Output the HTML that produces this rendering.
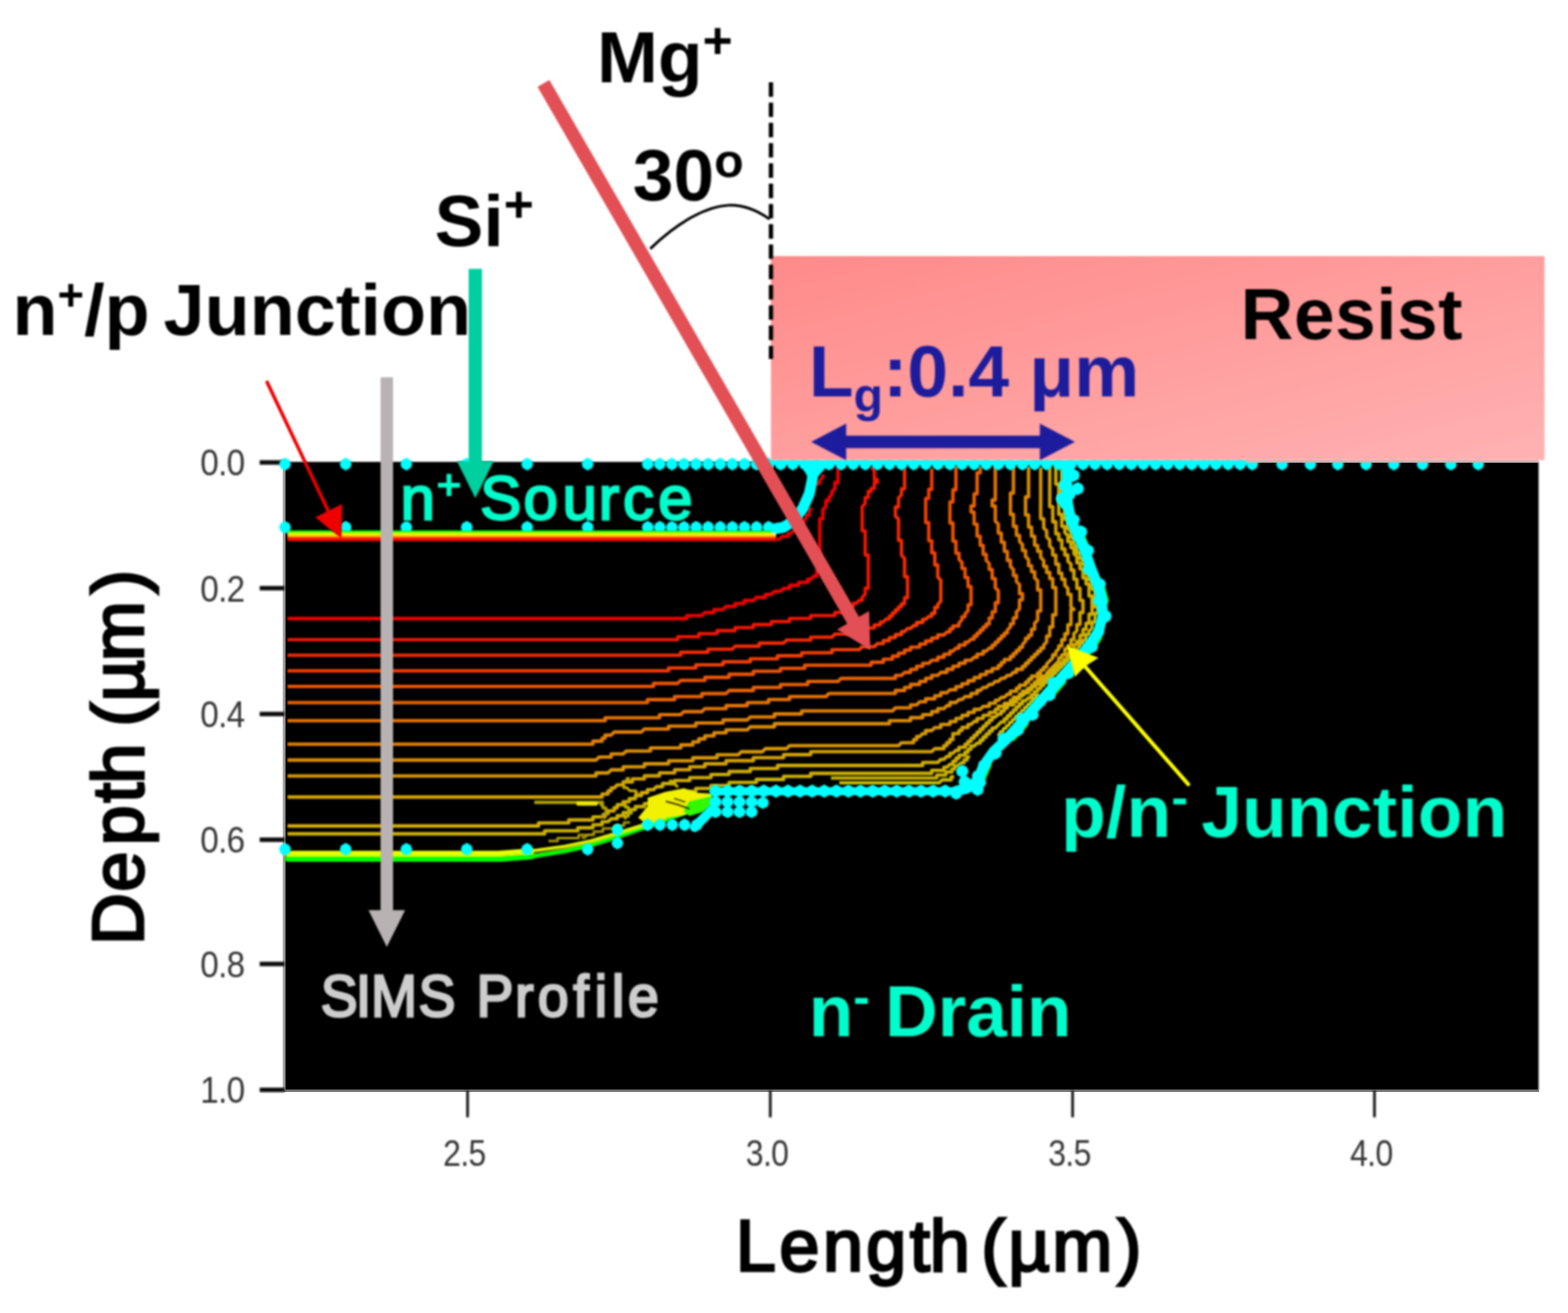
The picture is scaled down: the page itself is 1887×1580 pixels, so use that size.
<!DOCTYPE html>
<html lang="en">
<head>
<meta charset="utf-8">
<title>Mg ion implantation: simulated junction profile</title>
<style>
html,body{margin:0;padding:0;background:#ffffff;}
body{width:1887px;height:1580px;overflow:hidden;}
svg{display:block;}
</style>
</head>
<body>
<svg width="1887" height="1580" viewBox="0 0 1887 1580" role="img" aria-label="Simulated Mg implantation profile">
<defs>
<linearGradient id="resist" x1="0" y1="0" x2="1" y2="1">
<stop offset="0" stop-color="#ff8a8a"/><stop offset="1" stop-color="#ffb2b2"/>
</linearGradient>
<linearGradient id="npband" x1="0" y1="0" x2="0" y2="1">
<stop offset="0" stop-color="#00f400"/><stop offset="0.2" stop-color="#10ff00"/>
<stop offset="0.3" stop-color="#f4ff00"/><stop offset="0.5" stop-color="#ffd000"/>
<stop offset="0.64" stop-color="#ff2800"/><stop offset="1" stop-color="#f40000"/>
</linearGradient>
<filter id="soft" x="-5%" y="-5%" width="110%" height="110%"><feGaussianBlur stdDeviation="0.8"/></filter>
<filter id="soft2" x="-5%" y="-5%" width="110%" height="110%"><feGaussianBlur stdDeviation="1.1"/></filter>
</defs>
<rect x="0" y="0" width="1887" height="1580" fill="#ffffff"/>
<rect x="342.0" y="555.8" width="1509.6" height="756.4" fill="#000000" filter="url(#soft)"/>
<rect x="340.5" y="557.0" width="3" height="755.0" fill="#9a9a9a"/>
<rect x="341.0" y="1311.5" width="1511.0" height="2.5" fill="#777777"/>
<g id="axes" filter="url(#soft)">
<rect x="312.5" y="553.8" width="30" height="5.4" fill="#111"/>
<text transform="translate(241.0,572.4) scale(0.92,1)" font-family="'Liberation Sans', Arial, Helvetica, sans-serif" font-size="43.5" fill="#363636" letter-spacing="-0.9">0.0</text>
<rect x="312.5" y="705.1" width="30" height="5.4" fill="#111"/>
<text transform="translate(241.0,723.7) scale(0.92,1)" font-family="'Liberation Sans', Arial, Helvetica, sans-serif" font-size="43.5" fill="#363636" letter-spacing="-0.9">0.2</text>
<rect x="312.5" y="856.5" width="30" height="5.4" fill="#111"/>
<text transform="translate(241.0,875.1) scale(0.92,1)" font-family="'Liberation Sans', Arial, Helvetica, sans-serif" font-size="43.5" fill="#363636" letter-spacing="-0.9">0.4</text>
<rect x="312.5" y="1007.8" width="30" height="5.4" fill="#111"/>
<text transform="translate(241.0,1026.4) scale(0.92,1)" font-family="'Liberation Sans', Arial, Helvetica, sans-serif" font-size="43.5" fill="#363636" letter-spacing="-0.9">0.6</text>
<rect x="312.5" y="1157.3" width="30" height="5.4" fill="#111"/>
<text transform="translate(241.0,1175.9) scale(0.92,1)" font-family="'Liberation Sans', Arial, Helvetica, sans-serif" font-size="43.5" fill="#363636" letter-spacing="-0.9">0.8</text>
<rect x="312.5" y="1308.8" width="30" height="5.4" fill="#111"/>
<text transform="translate(241.0,1327.4) scale(0.92,1)" font-family="'Liberation Sans', Arial, Helvetica, sans-serif" font-size="43.5" fill="#363636" letter-spacing="-0.9">1.0</text>
<rect x="561.0" y="1312" width="3.4" height="32.5" fill="#222"/>
<text transform="translate(533.3,1402.8) scale(0.875,1)" font-family="'Liberation Sans', Arial, Helvetica, sans-serif" font-size="44" fill="#363636" letter-spacing="-0.9">2.5</text>
<rect x="925.3" y="1312" width="3.4" height="32.5" fill="#222"/>
<text transform="translate(897.6,1402.8) scale(0.875,1)" font-family="'Liberation Sans', Arial, Helvetica, sans-serif" font-size="44" fill="#363636" letter-spacing="-0.9">3.0</text>
<rect x="1289.1" y="1312" width="3.4" height="32.5" fill="#222"/>
<text transform="translate(1261.4,1402.8) scale(0.875,1)" font-family="'Liberation Sans', Arial, Helvetica, sans-serif" font-size="44" fill="#363636" letter-spacing="-0.9">3.5</text>
<rect x="1652.4" y="1312" width="3.4" height="32.5" fill="#222"/>
<text transform="translate(1624.7,1402.8) scale(0.875,1)" font-family="'Liberation Sans', Arial, Helvetica, sans-serif" font-size="44" fill="#363636" letter-spacing="-0.9">4.0</text>
</g>
<g id="contours" filter="url(#soft2)">
<polyline points="346.0,744.4 826.5,744.4 826.5,740.8 844.7,740.8 848.3,737.1 859.2,737.1 859.2,733.5 870.2,733.5 873.8,729.8 884.7,729.8 884.7,726.2 895.6,726.2 895.6,722.6 906.6,722.6 910.2,718.9 921.1,718.9 921.1,715.3 928.4,715.3 932.0,711.6 939.3,711.6 943.0,708.0 950.2,708.0 950.2,704.4 961.2,704.4 961.2,700.7 972.1,700.7 972.1,697.1 975.7,697.1 979.4,693.4 983.0,693.4 983.0,686.2 986.6,686.2 986.6,624.3 990.3,624.3 990.3,613.4 993.9,609.7 993.9,602.4 997.6,602.4 997.6,598.8 1001.2,595.2 1001.2,591.5 1004.8,587.9 1004.8,580.6 1008.5,580.6 1008.5,562.4" fill="none" stroke="#f00000" stroke-width="4.1" stroke-linejoin="round" stroke-linecap="butt" />
<polyline points="346.0,769.8 815.6,769.8 815.6,766.2 841.0,766.2 841.0,762.5 862.9,762.5 862.9,758.9 884.7,758.9 884.7,755.2 906.6,755.2 906.6,751.6 928.4,751.6 928.4,748.0 950.2,748.0 950.2,744.3 975.7,744.3 975.7,740.7 1004.8,740.7 1004.8,737.0 1015.8,737.0 1015.8,733.4 1023.0,733.4 1023.0,729.8 1026.7,729.8 1026.7,726.1 1030.3,726.1 1034.0,722.5 1037.6,722.5 1037.6,718.8 1041.2,715.2 1041.2,707.9 1044.9,707.9 1044.9,667.9 1041.2,667.9 1041.2,638.8 1037.6,638.8 1037.6,609.6 1041.2,606.0 1041.2,598.7 1044.9,598.7 1044.9,591.4 1048.5,591.4 1048.5,587.8 1052.2,587.8 1052.2,580.5 1055.8,580.5 1055.8,576.9 1052.2,576.9 1052.2,566.0 1048.5,562.3" fill="none" stroke="#f21300" stroke-width="4.1" stroke-linejoin="round" stroke-linecap="butt" />
<polyline points="346.0,788.5 819.2,788.5 819.2,784.9 852.0,784.9 852.0,781.2 881.1,781.2 884.7,777.6 913.8,777.6 913.8,773.9 943.0,773.9 946.6,770.3 975.7,770.3 975.7,766.7 1001.2,766.7 1004.8,763.0 1026.7,763.0 1026.7,759.4 1041.2,759.4 1041.2,755.7 1052.2,755.7 1052.2,752.1 1059.4,752.1 1059.4,748.5 1063.1,748.5 1066.7,744.8 1070.4,744.8 1070.4,741.2 1074.0,741.2 1074.0,737.5 1077.6,737.5 1077.6,733.9 1081.3,733.9 1081.3,730.3 1084.9,730.3 1084.9,726.6 1088.6,726.6 1088.6,719.3 1092.2,719.3 1092.2,693.9 1088.6,693.9 1088.6,672.0 1084.9,668.4 1084.9,650.2 1081.3,650.2 1081.3,624.7 1077.6,621.1 1077.6,610.1 1081.3,610.1 1081.3,599.2 1084.9,595.6 1084.9,588.3 1088.6,588.3 1088.6,562.8" fill="none" stroke="#f42a00" stroke-width="4.1" stroke-linejoin="round" stroke-linecap="butt" />
<polyline points="346.0,807.3 804.6,807.3 804.6,803.7 837.4,803.7 837.4,800.0 870.2,800.0 870.2,796.4 902.9,796.4 902.9,792.7 935.7,792.7 935.7,789.1 964.8,789.1 964.8,785.5 1001.2,785.5 1001.2,781.8 1034.0,781.8 1037.6,778.2 1052.2,778.2 1055.8,774.5 1063.1,774.5 1063.1,770.9 1070.4,770.9 1070.4,767.3 1077.6,767.3 1077.6,763.6 1084.9,763.6 1084.9,760.0 1088.6,760.0 1092.2,756.3 1095.8,756.3 1099.5,752.7 1103.1,752.7 1103.1,749.1 1110.4,749.1 1110.4,745.4 1114.0,745.4 1117.7,741.8 1121.3,741.8 1121.3,738.1 1125.0,738.1 1125.0,730.9 1128.6,730.9 1128.6,727.2 1132.2,723.6 1132.2,698.1 1128.6,694.5 1128.6,679.9 1125.0,679.9 1125.0,665.3 1121.3,665.3 1121.3,650.8 1117.7,650.8 1117.7,628.9 1114.0,628.9 1114.0,599.8 1117.7,599.8 1117.7,588.9 1121.3,588.9 1121.3,563.4" fill="none" stroke="#f43f00" stroke-width="4.1" stroke-linejoin="round" stroke-linecap="butt" />
<polyline points="346.0,826.0 786.4,826.0 786.4,822.4 815.6,822.4 819.2,818.7 848.3,818.7 848.3,815.1 877.4,815.1 877.4,811.4 906.6,811.4 906.6,807.8 939.3,807.8 939.3,804.2 968.4,804.2 968.4,800.5 1048.5,800.5 1048.5,796.9 1063.1,796.9 1063.1,793.2 1074.0,793.2 1074.0,789.6 1081.3,789.6 1081.3,786.0 1088.6,786.0 1088.6,782.3 1095.8,782.3 1095.8,778.7 1106.8,778.7 1106.8,775.0 1114.0,775.0 1114.0,771.4 1121.3,771.4 1121.3,767.8 1128.6,767.8 1128.6,764.1 1135.9,764.1 1139.5,760.5 1143.2,760.5 1143.2,756.8 1146.8,756.8 1146.8,753.2 1154.1,753.2 1154.1,749.6 1157.7,745.9 1157.7,742.3 1161.4,742.3 1161.4,738.6 1165.0,735.0 1165.0,727.7 1168.6,727.7 1168.6,705.9 1165.0,705.9 1165.0,695.0 1161.4,695.0 1161.4,684.0 1157.7,684.0 1157.7,676.8 1154.1,673.1 1154.1,665.8 1150.4,665.8 1150.4,651.3 1146.8,651.3 1146.8,629.4 1143.2,629.4 1143.2,604.0 1146.8,604.0 1146.8,589.4 1150.4,589.4 1150.4,560.3" fill="none" stroke="#f05400" stroke-width="4.1" stroke-linejoin="round" stroke-linecap="butt" />
<polyline points="346.0,845.5 779.2,845.5 779.2,841.9 811.9,841.9 811.9,838.2 844.7,838.2 844.7,834.6 873.8,834.6 877.4,830.9 906.6,830.9 906.6,827.3 939.3,827.3 939.3,823.7 972.1,823.7 972.1,820.0 1008.5,820.0 1012.1,816.4 1077.6,816.4 1077.6,812.7 1084.9,812.7 1088.6,809.1 1095.8,809.1 1095.8,805.5 1103.1,805.5 1103.1,801.8 1110.4,801.8 1110.4,798.2 1117.7,798.2 1121.3,794.5 1128.6,794.5 1128.6,790.9 1135.9,790.9 1135.9,787.3 1143.2,787.3 1143.2,783.6 1146.8,783.6 1150.4,780.0 1154.1,780.0 1154.1,776.3 1161.4,776.3 1161.4,772.7 1165.0,772.7 1168.6,769.1 1172.3,769.1 1172.3,765.4 1175.9,765.4 1175.9,761.8 1179.6,761.8 1179.6,758.1 1183.2,758.1 1183.2,754.5 1186.8,754.5 1186.8,750.9 1190.5,750.9 1190.5,743.6 1194.1,743.6 1194.1,736.3 1197.8,736.3 1197.8,725.4 1201.4,725.4 1201.4,710.8 1197.8,707.2 1197.8,696.3 1194.1,696.3 1194.1,685.3 1190.5,685.3 1190.5,678.1 1186.8,674.4 1186.8,667.1 1183.2,667.1 1183.2,656.2 1179.6,656.2 1179.6,645.3 1175.9,645.3 1175.9,630.7 1172.3,630.7 1172.3,616.2 1168.6,616.2 1168.6,608.9 1172.3,608.9 1172.3,594.3 1175.9,594.3 1175.9,568.9 1179.6,568.9 1179.6,561.6" fill="none" stroke="#eb6400" stroke-width="4.1" stroke-linejoin="round" stroke-linecap="butt" />
<polyline points="346.0,867.3 728.2,867.3 728.2,863.7 793.7,863.7 793.7,860.0 819.2,860.0 822.8,856.4 844.7,856.4 848.3,852.7 873.8,852.7 873.8,849.1 899.3,849.1 899.3,845.5 924.8,845.5 924.8,841.8 950.2,841.8 950.2,838.2 993.9,838.2 997.6,834.5 1077.6,834.5 1077.6,830.9 1088.6,830.9 1088.6,827.3 1095.8,827.3 1095.8,823.6 1106.8,823.6 1106.8,820.0 1114.0,820.0 1114.0,816.3 1121.3,816.3 1121.3,812.7 1128.6,812.7 1132.2,809.1 1139.5,809.1 1139.5,805.4 1146.8,805.4 1146.8,801.8 1154.1,801.8 1154.1,798.1 1161.4,798.1 1161.4,794.5 1168.6,794.5 1172.3,790.9 1175.9,790.9 1175.9,787.2 1183.2,787.2 1183.2,783.6 1186.8,783.6 1190.5,779.9 1194.1,779.9 1194.1,776.3 1197.8,776.3 1197.8,772.7 1201.4,772.7 1201.4,769.0 1205.0,769.0 1205.0,765.4 1208.7,765.4 1208.7,761.7 1212.3,761.7 1212.3,758.1 1216.0,754.5 1216.0,750.8 1219.6,750.8 1219.6,743.5 1223.2,743.5 1223.2,736.3 1226.9,732.6 1226.9,721.7 1230.5,721.7 1230.5,714.4 1226.9,714.4 1226.9,703.5 1223.2,699.9 1223.2,692.6 1219.6,692.6 1219.6,685.3 1216.0,681.7 1216.0,674.4 1212.3,674.4 1212.3,663.5 1208.7,663.5 1208.7,652.5 1205.0,652.5 1205.0,641.6 1201.4,641.6 1201.4,630.7 1197.8,627.1 1197.8,608.9 1194.1,608.9 1194.1,601.6 1197.8,601.6 1197.8,561.5" fill="none" stroke="#e77400" stroke-width="4.1" stroke-linejoin="round" stroke-linecap="butt" />
<polyline points="346.0,895.5 713.6,895.5 713.6,891.9 724.6,891.9 724.6,888.2 728.2,888.2 728.2,884.6 735.5,884.6 739.1,880.9 771.9,880.9 775.5,877.3 804.6,877.3 804.6,873.7 837.4,873.7 837.4,870.0 870.2,870.0 870.2,866.4 899.3,866.4 902.9,862.7 932.0,862.7 932.0,859.1 964.8,859.1 964.8,855.5 1074.0,855.5 1077.6,851.8 1095.8,851.8 1095.8,848.2 1103.1,848.2 1106.8,844.5 1114.0,844.5 1114.0,840.9 1125.0,840.9 1125.0,837.3 1132.2,837.3 1132.2,833.6 1139.5,833.6 1143.2,830.0 1150.4,830.0 1150.4,826.3 1157.7,826.3 1157.7,822.7 1165.0,822.7 1165.0,819.1 1172.3,819.1 1172.3,815.4 1179.6,815.4 1179.6,811.8 1186.8,811.8 1186.8,808.1 1194.1,808.1 1194.1,804.5 1201.4,804.5 1201.4,800.9 1205.0,800.9 1205.0,797.2 1208.7,797.2 1208.7,793.6 1216.0,793.6 1216.0,789.9 1219.6,789.9 1219.6,786.3 1223.2,786.3 1223.2,782.7 1226.9,782.7 1226.9,779.0 1230.5,779.0 1230.5,775.4 1234.2,771.7 1234.2,768.1 1237.8,768.1 1237.8,764.5 1241.4,764.5 1241.4,757.2 1245.1,757.2 1245.1,749.9 1248.7,746.3 1248.7,735.3 1252.4,735.3 1252.4,709.9 1248.7,709.9 1248.7,698.9 1245.1,695.3 1245.1,688.0 1241.4,688.0 1241.4,680.7 1237.8,680.7 1237.8,673.5 1234.2,669.8 1234.2,662.5 1230.5,662.5 1230.5,655.3 1226.9,651.6 1226.9,644.3 1223.2,644.3 1223.2,633.4 1219.6,633.4 1219.6,618.9 1216.0,618.9 1216.0,593.4 1219.6,593.4 1219.6,560.6" fill="none" stroke="#e38000" stroke-width="4.1" stroke-linejoin="round" stroke-linecap="butt" />
<polyline points="346.0,914.6 717.3,914.6 720.9,911.0 735.5,911.0 735.5,907.3 750.0,907.3 753.7,903.7 782.8,903.7 782.8,900.0 819.2,900.0 819.2,896.4 833.8,896.4 833.8,892.8 841.0,892.8 841.0,889.1 848.3,889.1 848.3,885.5 859.2,885.5 859.2,881.8 873.8,881.8 873.8,878.2 899.3,878.2 902.9,874.6 932.0,874.6 932.0,870.9 1070.4,870.9 1070.4,867.3 1095.8,867.3 1095.8,863.6 1110.4,863.6 1110.4,860.0 1121.3,860.0 1121.3,856.4 1128.6,856.4 1128.6,852.7 1135.9,852.7 1139.5,849.1 1143.2,849.1 1143.2,845.4 1150.4,845.4 1154.1,841.8 1157.7,841.8 1161.4,838.2 1168.6,838.2 1168.6,834.5 1175.9,834.5 1175.9,830.9 1179.6,830.9 1183.2,827.2 1186.8,827.2 1190.5,823.6 1194.1,823.6 1197.8,820.0 1201.4,820.0 1205.0,816.3 1208.7,816.3 1212.3,812.7 1216.0,812.7 1219.6,809.0 1223.2,809.0 1223.2,805.4 1230.5,805.4 1230.5,801.8 1234.2,801.8 1234.2,798.1 1237.8,798.1 1237.8,794.5 1241.4,794.5 1241.4,790.8 1245.1,790.8 1245.1,787.2 1248.7,787.2 1248.7,783.6 1252.4,783.6 1252.4,779.9 1256.0,779.9 1256.0,776.3 1259.6,772.6 1259.6,765.4 1263.3,765.4 1263.3,754.4 1266.9,754.4 1266.9,739.9 1270.6,739.9 1270.6,707.1 1266.9,707.1 1266.9,696.2 1263.3,696.2 1263.3,688.9 1259.6,688.9 1259.6,681.6 1256.0,681.6 1256.0,674.4 1252.4,670.7 1252.4,663.4 1248.7,663.4 1248.7,656.2 1245.1,656.2 1245.1,645.2 1241.4,645.2 1241.4,634.3 1237.8,634.3 1237.8,619.8 1234.2,619.8 1234.2,597.9 1237.8,597.9 1237.8,561.5" fill="none" stroke="#df8d00" stroke-width="4.1" stroke-linejoin="round" stroke-linecap="butt" />
<polyline points="346.0,933.7 717.3,933.7 717.3,930.1 731.8,930.1 735.5,926.4 750.0,926.4 750.0,922.8 775.5,922.8 775.5,919.1 804.6,919.1 804.6,915.5 833.8,915.5 833.8,911.9 862.9,911.9 862.9,908.2 888.4,908.2 892.0,904.6 917.5,904.6 921.1,900.9 946.6,900.9 950.2,897.3 1081.3,897.3 1084.9,893.7 1099.5,893.7 1099.5,890.0 1103.1,890.0 1103.1,886.4 1106.8,886.4 1110.4,882.7 1114.0,882.7 1114.0,879.1 1121.3,879.1 1125.0,875.5 1132.2,875.5 1132.2,871.8 1143.2,871.8 1143.2,868.2 1150.4,868.2 1150.4,864.5 1157.7,864.5 1157.7,860.9 1165.0,860.9 1165.0,857.3 1172.3,857.3 1172.3,853.6 1179.6,853.6 1183.2,850.0 1190.5,850.0 1190.5,846.3 1197.8,846.3 1197.8,842.7 1201.4,842.7 1205.0,839.1 1208.7,839.1 1212.3,835.4 1216.0,835.4 1216.0,831.8 1223.2,831.8 1223.2,828.1 1226.9,828.1 1226.9,824.5 1234.2,824.5 1234.2,820.9 1237.8,820.9 1237.8,817.2 1241.4,817.2 1241.4,813.6 1248.7,813.6 1248.7,809.9 1252.4,809.9 1252.4,806.3 1256.0,806.3 1256.0,802.7 1259.6,802.7 1259.6,799.0 1263.3,795.4 1266.9,791.7 1266.9,788.1 1270.6,788.1 1270.6,784.5 1274.2,780.8 1274.2,777.2 1277.8,777.2 1277.8,769.9 1281.5,769.9 1281.5,762.6 1285.1,762.6 1285.1,751.7 1288.8,751.7 1288.8,733.5 1292.4,733.5 1288.8,729.9 1288.8,715.3 1285.1,715.3 1285.1,708.0 1281.5,704.4 1281.5,697.1 1277.8,697.1 1277.8,689.8 1274.2,689.8 1274.2,678.9 1270.6,678.9 1270.6,668.0 1266.9,668.0 1266.9,660.7 1263.3,657.1 1263.3,649.8 1259.6,646.1 1259.6,638.9 1256.0,635.2 1256.0,624.3 1252.4,624.3 1252.4,562.4" fill="none" stroke="#da9900" stroke-width="4.1" stroke-linejoin="round" stroke-linecap="butt" />
<polyline points="346.0,959.1 724.6,959.1 724.6,955.5 731.8,955.5 731.8,951.8 735.5,951.8 735.5,948.2 739.1,948.2 742.8,944.5 750.0,944.5 750.0,940.9 761.0,940.9 761.0,937.3 775.5,937.3 775.5,933.6 793.7,933.6 793.7,930.0 811.9,930.0 811.9,926.3 830.1,926.3 830.1,922.7 848.3,922.7 848.3,919.1 873.8,919.1 873.8,915.4 906.6,915.4 906.6,911.8 943.0,911.8 943.0,908.1 975.7,908.1 975.7,904.5 1121.3,904.5 1125.0,900.9 1135.9,900.9 1135.9,897.2 1139.5,897.2 1139.5,893.6 1143.2,893.6 1143.2,889.9 1146.8,889.9 1146.8,882.7 1154.1,882.7 1154.1,879.0 1157.7,879.0 1157.7,875.4 1165.0,875.4 1165.0,871.7 1168.6,871.7 1172.3,868.1 1175.9,868.1 1175.9,864.5 1183.2,864.5 1183.2,860.8 1190.5,860.8 1190.5,857.2 1197.8,857.2 1197.8,853.5 1201.4,853.5 1201.4,849.9 1208.7,849.9 1208.7,846.3 1216.0,846.3 1216.0,842.6 1219.6,842.6 1219.6,839.0 1226.9,839.0 1226.9,835.3 1230.5,835.3 1230.5,831.7 1234.2,831.7 1237.8,828.1 1241.4,828.1 1241.4,824.4 1245.1,824.4 1245.1,820.8 1248.7,820.8 1248.7,817.1 1252.4,817.1 1252.4,813.5 1259.6,813.5 1259.6,809.9 1263.3,806.2 1266.9,802.6 1270.6,798.9 1274.2,795.3 1274.2,791.7 1277.8,791.7 1277.8,788.0 1281.5,788.0 1281.5,780.7 1285.1,780.7 1285.1,777.1 1288.8,777.1 1288.8,769.8 1292.4,769.8 1292.4,762.5 1296.0,758.9 1296.0,751.6 1299.7,751.6 1299.7,737.1 1303.3,737.1 1303.3,722.5 1299.7,722.5 1299.7,707.9 1296.0,707.9 1296.0,697.0 1292.4,697.0 1292.4,686.1 1288.8,686.1 1288.8,678.8 1285.1,675.2 1285.1,667.9 1281.5,667.9 1281.5,660.6 1277.8,660.6 1277.8,649.7 1274.2,649.7 1274.2,642.4 1270.6,642.4 1270.6,627.9 1266.9,627.9 1266.9,609.7 1263.3,609.7 1263.3,562.3" fill="none" stroke="#d6a400" stroke-width="4.1" stroke-linejoin="round" stroke-linecap="butt" />
<polyline points="346.0,993.9 648.1,993.9 648.1,990.3 684.5,990.3 684.5,986.6 713.6,986.6 713.6,983.0 728.2,983.0 728.2,979.3 731.8,979.3 731.8,975.7 739.1,975.7 739.1,972.1 742.8,972.1 742.8,968.4 750.0,968.4 750.0,964.8 757.3,964.8 757.3,961.1 764.6,961.1 764.6,957.5 771.9,957.5 771.9,953.9 779.2,953.9 779.2,950.2 786.4,950.2 790.1,946.6 797.4,946.6 797.4,942.9 811.9,942.9 811.9,939.3 830.1,939.3 830.1,935.7 855.6,935.7 855.6,932.0 877.4,932.0 877.4,928.4 902.9,928.4 902.9,924.7 935.7,924.7 935.7,921.1 1110.4,921.1 1110.4,917.5 1128.6,917.5 1132.2,913.8 1135.9,913.8 1139.5,910.2 1143.2,910.2 1143.2,906.5 1146.8,906.5 1150.4,902.9 1154.1,902.9 1154.1,899.3 1161.4,899.3 1161.4,895.6 1165.0,895.6 1165.0,892.0 1168.6,892.0 1168.6,888.3 1172.3,888.3 1172.3,884.7 1175.9,884.7 1175.9,881.1 1179.6,881.1 1179.6,877.4 1183.2,877.4 1183.2,873.8 1186.8,873.8 1186.8,870.1 1190.5,870.1 1190.5,866.5 1194.1,866.5 1194.1,862.9 1197.8,862.9 1201.4,859.2 1205.0,859.2 1205.0,855.6 1208.7,855.6 1208.7,851.9 1212.3,851.9 1212.3,848.3 1219.6,848.3 1219.6,844.7 1223.2,844.7 1223.2,841.0 1226.9,841.0 1226.9,837.4 1230.5,837.4 1234.2,833.7 1237.8,833.7 1237.8,830.1 1241.4,830.1 1241.4,826.5 1245.1,826.5 1248.7,822.8 1252.4,822.8 1252.4,819.2 1256.0,819.2 1256.0,815.5 1259.6,815.5 1259.6,811.9 1263.3,811.9 1263.3,808.3 1266.9,808.3 1266.9,804.6 1270.6,804.6 1270.6,801.0 1274.2,801.0 1277.8,797.3 1281.5,793.7 1285.1,790.1 1285.1,786.4 1288.8,786.4 1288.8,782.8 1292.4,782.8 1292.4,775.5 1296.0,775.5 1296.0,771.9 1299.7,771.9 1299.7,764.6 1303.3,764.6 1303.3,757.3 1307.0,757.3 1307.0,750.0 1310.6,750.0 1310.6,739.1 1314.2,739.1 1314.2,717.3 1310.6,717.3 1310.6,702.7 1307.0,702.7 1307.0,695.4 1303.3,695.4 1303.3,684.5 1299.7,684.5 1299.7,677.2 1296.0,677.2 1296.0,669.9 1292.4,666.3 1292.4,659.0 1288.8,659.0 1288.8,651.7 1285.1,651.7 1285.1,644.5 1281.5,640.8 1281.5,633.5 1277.8,633.5 1277.8,619.0 1274.2,619.0 1274.2,582.6 1270.6,582.6 1270.6,560.7" fill="none" stroke="#d2ae00" stroke-width="4.1" stroke-linejoin="round" stroke-linecap="butt" />
<polyline points="346.0,1003.4 655.4,1003.4 655.4,999.8 695.4,999.8 695.4,996.1 713.6,996.1 713.6,992.5 724.6,992.5 724.6,988.8 731.8,988.8 735.5,985.2 742.8,985.2 742.8,981.6 750.0,981.6 750.0,977.9 757.3,977.9 757.3,974.3 764.6,974.3 764.6,970.6 775.5,970.6 775.5,967.0 782.8,967.0 786.4,963.4 793.7,963.4 793.7,959.7 808.3,959.7 808.3,956.1 822.8,956.1 822.8,952.4 837.4,952.4 837.4,948.8 855.6,948.8 855.6,945.2 877.4,945.2 877.4,941.5 910.2,941.5 910.2,937.9 943.0,937.9 943.0,934.2 975.7,934.2 975.7,930.6 1121.3,930.6 1121.3,927.0 1135.9,927.0 1135.9,923.3 1139.5,923.3 1143.2,919.7 1146.8,919.7 1146.8,916.0 1150.4,916.0 1150.4,912.4 1154.1,912.4 1154.1,908.8 1161.4,908.8 1161.4,905.1 1165.0,905.1 1165.0,901.5 1168.6,901.5 1168.6,897.8 1172.3,897.8 1175.9,894.2 1179.6,894.2 1179.6,890.6 1183.2,890.6 1183.2,886.9 1186.8,886.9 1186.8,883.3 1190.5,883.3 1190.5,879.6 1194.1,879.6 1194.1,876.0 1197.8,876.0 1201.4,872.4 1205.0,868.7 1208.7,868.7 1208.7,865.1 1212.3,865.1 1212.3,861.4 1216.0,861.4 1216.0,857.8 1219.6,857.8 1219.6,854.2 1223.2,854.2 1223.2,850.5 1226.9,850.5 1226.9,846.9 1230.5,846.9 1230.5,843.2 1234.2,843.2 1237.8,839.6 1241.4,839.6 1241.4,836.0 1245.1,836.0 1245.1,832.3 1248.7,832.3 1248.7,828.7 1252.4,828.7 1252.4,825.0 1256.0,825.0 1256.0,821.4 1259.6,821.4 1259.6,817.8 1263.3,817.8 1263.3,814.1 1266.9,814.1 1266.9,810.5 1270.6,810.5 1270.6,806.8 1274.2,806.8 1274.2,803.2 1277.8,803.2 1277.8,799.6 1281.5,799.6 1281.5,795.9 1285.1,795.9 1285.1,792.3 1288.8,792.3 1288.8,788.6 1292.4,788.6 1292.4,785.0 1296.0,785.0 1296.0,781.4 1299.7,777.7 1299.7,774.1 1303.3,774.1 1303.3,770.4 1307.0,770.4 1307.0,763.2 1310.6,763.2 1310.6,759.5 1314.2,755.9 1314.2,748.6 1317.9,748.6 1317.9,737.7 1321.5,737.7 1321.5,730.4 1317.9,730.4 1317.9,708.6 1314.2,708.6 1314.2,697.6 1310.6,697.6 1310.6,690.4 1307.0,690.4 1307.0,679.4 1303.3,679.4 1303.3,672.2 1299.7,672.2 1299.7,664.9 1296.0,664.9 1296.0,657.6 1292.4,654.0 1292.4,646.7 1288.8,646.7 1288.8,639.4 1285.1,635.8 1285.1,624.8 1281.5,624.8 1281.5,603.0 1277.8,603.0 1277.8,563.0" fill="none" stroke="#cdb200" stroke-width="4.1" stroke-linejoin="round" stroke-linecap="butt" />
<polyline points="1000.0,936.2 1127.4,936.2 1127.4,932.6 1138.3,932.6 1138.3,928.9 1145.6,928.9 1145.6,925.3 1149.2,925.3 1149.2,921.6 1152.9,921.6 1156.5,918.0 1160.2,918.0 1160.2,914.4 1163.8,914.4 1163.8,910.7 1167.4,910.7" fill="none" stroke="#c4b000" stroke-width="4.1" stroke-linejoin="round" stroke-linecap="butt" />
<polyline points="1010.0,942.0 1130.1,942.0 1133.8,938.4 1144.7,938.4 1144.7,934.7 1148.3,934.7" fill="none" stroke="#c8b800" stroke-width="4.1" stroke-linejoin="round" stroke-linecap="butt" />
<polyline points="1200.0,884.0 1203.6,884.0 1203.6,880.4 1207.3,880.4 1207.3,876.7 1210.9,876.7 1210.9,873.1 1214.6,873.1 1214.6,869.4 1218.2,869.4 1218.2,865.8 1221.8,865.8 1221.8,862.2 1225.5,862.2 1225.5,858.5 1229.1,858.5 1229.1,854.9 1232.8,854.9 1232.8,851.2 1236.4,851.2 1236.4,847.6 1240.0,847.6 1240.0,844.0 1243.7,844.0 1243.7,840.3 1247.3,840.3 1247.3,836.7 1251.0,836.7" fill="none" stroke="#d8c800" stroke-width="3.2" stroke-linejoin="round" stroke-linecap="butt" />
<polyline points="643.0,965.5 726.7,965.5" fill="none" stroke="#b4a400" stroke-width="4.1" stroke-linejoin="round" stroke-linecap="butt" />
<polyline points="696.0,967.0 717.0,967.0" fill="none" stroke="#f0e800" stroke-width="5" stroke-linejoin="round" stroke-linecap="round" />
<polyline points="934.0,649.0 937.6,649.0 941.3,645.4 948.6,645.4 948.6,641.7 952.2,641.7 955.8,638.1 959.5,638.1 959.5,634.4 963.1,634.4 963.1,630.8 966.8,630.8 966.8,627.2 970.4,623.5 970.4,619.9 974.0,619.9 974.0,612.6 977.7,612.6" fill="none" stroke="#e00000" stroke-width="4.1" stroke-linejoin="round" stroke-linecap="butt" />
<polyline points="983.0,585.0 983.0,581.4 986.6,581.4 986.6,577.7 990.3,574.1 990.3,570.4" fill="none" stroke="#e00000" stroke-width="4.1" stroke-linejoin="round" stroke-linecap="butt" />
<polyline points="346.0,1033.6 603.0,1033.6 640.0,1030.5" fill="none" stroke="#00ff00" stroke-width="7" stroke-linejoin="round" stroke-linecap="round" />
<polyline points="640.0,1030.5 680.0,1024.0 711.0,1017.0 743.0,1007.0 772.0,997.0 800.0,987.0 830.0,976.0 850.0,968.0" fill="none" stroke="#00f800" stroke-width="5.5" stroke-linejoin="round" stroke-linecap="round" />
<polyline points="346.0,1027.0 600.0,1027.0 640.0,1024.0" fill="none" stroke="#e6ff00" stroke-width="6.5" stroke-linejoin="round" stroke-linecap="round" />
<polyline points="640.0,1024.0 680.0,1018.5 711.0,1012.0 743.0,1002.5 772.0,993.5 800.0,983.5" fill="none" stroke="#dff000" stroke-width="4.2" stroke-linejoin="round" stroke-linecap="round" />
<polygon points="779.4,960 800.4,953 823.3,948.6 838.5,954 857,955 857,966 840,978 819.5,981 795,985 776,990 768,984 779.4,970" fill="#f2f200"/>
<polygon points="829,964 857,957.5 858,968 846,977 830,982 822,977" fill="#30f800"/>
<polyline points="802.0,964.5 815.0,968.0 829.0,973.0" fill="none" stroke="#2a2400" stroke-width="2.4" stroke-linejoin="round" stroke-linecap="round" />
<polyline points="812.0,961.0 824.0,965.0" fill="none" stroke="#3a3000" stroke-width="2.2" stroke-linejoin="round" stroke-linecap="round" />
<polyline points="722.0,968.7 725.6,968.7 725.6,972.3 729.3,972.3 729.3,979.6 725.6,979.6 725.6,983.3 722.0,983.3" fill="none" stroke="#b4a200" stroke-width="3.4" stroke-linejoin="round" stroke-linecap="butt" />
<polyline points="748.9,967.7 752.5,967.7 752.5,971.3 756.2,971.3 756.2,975.0 759.8,975.0 759.8,978.6 756.2,978.6 756.2,982.3 752.5,982.3 752.5,985.9" fill="none" stroke="#c0b000" stroke-width="3.4" stroke-linejoin="round" stroke-linecap="butt" />
<polyline points="758.0,937.0 754.4,937.0 754.4,940.6 750.7,940.6 750.7,947.9 754.4,947.9 758.0,951.6 765.3,951.6 765.3,955.2 768.9,955.2" fill="none" stroke="#c8a800" stroke-width="3.4" stroke-linejoin="round" stroke-linecap="butt" />
<polyline points="805.0,940.0 808.6,940.0 808.6,943.6 812.3,943.6 815.9,947.3" fill="none" stroke="#c8b000" stroke-width="3.4" stroke-linejoin="round" stroke-linecap="butt" />
<polyline points="700.0,1008.0 703.6,1008.0 707.3,1004.4 714.6,1004.4 714.6,1000.7 725.5,1000.7 725.5,997.1 740.0,997.1 740.0,993.4 751.0,993.4 751.0,989.8 758.2,989.8" fill="none" stroke="#a89800" stroke-width="3.0" stroke-linejoin="round" stroke-linecap="butt" />
<polyline points="660.0,1012.0 670.9,1012.0 670.9,1008.4 696.4,1008.4 696.4,1004.7 714.6,1004.7" fill="none" stroke="#a89800" stroke-width="3.0" stroke-linejoin="round" stroke-linecap="butt" />
</g>
<g id="dots" filter="url(#soft)">
<polygon points="343.0,550.8 348.5,554.0 350.1,558.5 348.5,563.0 343.0,566.2 337.5,563.0 335.9,558.5 337.5,554.0" fill="#00ffff"/>
<polygon points="416.0,550.8 421.5,554.0 423.1,558.5 421.5,563.0 416.0,566.2 410.5,563.0 408.9,558.5 410.5,554.0" fill="#00ffff"/>
<polygon points="489.0,550.8 494.5,554.0 496.1,558.5 494.5,563.0 489.0,566.2 483.5,563.0 481.9,558.5 483.5,554.0" fill="#00ffff"/>
<polygon points="561.7,550.8 567.2,554.0 568.8,558.5 567.2,563.0 561.7,566.2 556.2,563.0 554.6,558.5 556.2,554.0" fill="#00ffff"/>
<polygon points="634.4,550.8 639.9,554.0 641.5,558.5 639.9,563.0 634.4,566.2 628.9,563.0 627.3,558.5 628.9,554.0" fill="#00ffff"/>
<polygon points="707.2,550.8 712.7,554.0 714.3,558.5 712.7,563.0 707.2,566.2 701.7,563.0 700.1,558.5 701.7,554.0" fill="#00ffff"/>
<polygon points="779.5,550.8 785.0,554.0 786.6,558.5 785.0,563.0 779.5,566.2 774.0,563.0 772.4,558.5 774.0,554.0" fill="#00ffff"/>
<polygon points="794.0,550.8 799.6,554.0 801.1,558.5 799.6,563.0 794.0,566.2 788.5,563.0 786.9,558.5 788.5,554.0" fill="#00ffff"/>
<polygon points="808.6,550.8 814.1,554.0 815.7,558.5 814.1,563.0 808.6,566.2 803.1,563.0 801.5,558.5 803.1,554.0" fill="#00ffff"/>
<polygon points="823.1,550.8 828.7,554.0 830.2,558.5 828.7,563.0 823.1,566.2 817.6,563.0 816.0,558.5 817.6,554.0" fill="#00ffff"/>
<polygon points="837.7,550.8 843.2,554.0 844.8,558.5 843.2,563.0 837.7,566.2 832.2,563.0 830.6,558.5 832.2,554.0" fill="#00ffff"/>
<polygon points="852.2,550.8 857.8,554.0 859.3,558.5 857.8,563.0 852.2,566.2 846.7,563.0 845.1,558.5 846.7,554.0" fill="#00ffff"/>
<polygon points="866.8,550.8 872.3,554.0 873.9,558.5 872.3,563.0 866.8,566.2 861.3,563.0 859.7,558.5 861.3,554.0" fill="#00ffff"/>
<polygon points="881.3,550.8 886.9,554.0 888.4,558.5 886.9,563.0 881.3,566.2 875.8,563.0 874.2,558.5 875.8,554.0" fill="#00ffff"/>
<polygon points="895.9,550.8 901.4,554.0 903.0,558.5 901.4,563.0 895.9,566.2 890.4,563.0 888.8,558.5 890.4,554.0" fill="#00ffff"/>
<polygon points="910.4,550.8 916.0,554.0 917.5,558.5 916.0,563.0 910.4,566.2 904.9,563.0 903.3,558.5 904.9,554.0" fill="#00ffff"/>
<polygon points="925.0,550.8 930.5,554.0 932.1,558.5 930.5,563.0 925.0,566.2 919.5,563.0 917.9,558.5 919.5,554.0" fill="#00ffff"/>
<polygon points="939.5,550.8 945.1,554.0 946.6,558.5 945.1,563.0 939.5,566.2 934.0,563.0 932.4,558.5 934.0,554.0" fill="#00ffff"/>
<polygon points="954.1,550.8 959.6,554.0 961.2,558.5 959.6,563.0 954.1,566.2 948.6,563.0 947.0,558.5 948.6,554.0" fill="#00ffff"/>
<polygon points="968.6,550.8 974.2,554.0 975.7,558.5 974.2,563.0 968.6,566.2 963.1,563.0 961.5,558.5 963.1,554.0" fill="#00ffff"/>
<polygon points="983.2,550.8 988.7,554.0 990.3,558.5 988.7,563.0 983.2,566.2 977.7,563.0 976.1,558.5 977.7,554.0" fill="#00ffff"/>
<polygon points="997.7,550.8 1003.3,554.0 1004.8,558.5 1003.3,563.0 997.7,566.2 992.2,563.0 990.6,558.5 992.2,554.0" fill="#00ffff"/>
<polygon points="1012.3,550.8 1017.8,554.0 1019.4,558.5 1017.8,563.0 1012.3,566.2 1006.8,563.0 1005.2,558.5 1006.8,554.0" fill="#00ffff"/>
<polygon points="1026.8,550.8 1032.4,554.0 1033.9,558.5 1032.4,563.0 1026.8,566.2 1021.3,563.0 1019.7,558.5 1021.3,554.0" fill="#00ffff"/>
<polygon points="1041.4,550.8 1046.9,554.0 1048.5,558.5 1046.9,563.0 1041.4,566.2 1035.9,563.0 1034.3,558.5 1035.9,554.0" fill="#00ffff"/>
<polygon points="1055.9,550.8 1061.5,554.0 1063.0,558.5 1061.5,563.0 1055.9,566.2 1050.4,563.0 1048.8,558.5 1050.4,554.0" fill="#00ffff"/>
<polygon points="1070.5,550.8 1076.0,554.0 1077.6,558.5 1076.0,563.0 1070.5,566.2 1065.0,563.0 1063.4,558.5 1065.0,554.0" fill="#00ffff"/>
<polygon points="1085.0,550.8 1090.6,554.0 1092.1,558.5 1090.6,563.0 1085.0,566.2 1079.5,563.0 1077.9,558.5 1079.5,554.0" fill="#00ffff"/>
<polygon points="1099.6,550.8 1105.1,554.0 1106.7,558.5 1105.1,563.0 1099.6,566.2 1094.1,563.0 1092.5,558.5 1094.1,554.0" fill="#00ffff"/>
<polygon points="1114.1,550.8 1119.7,554.0 1121.2,558.5 1119.7,563.0 1114.1,566.2 1108.6,563.0 1107.0,558.5 1108.6,554.0" fill="#00ffff"/>
<polygon points="1128.7,550.8 1134.2,554.0 1135.8,558.5 1134.2,563.0 1128.7,566.2 1123.2,563.0 1121.6,558.5 1123.2,554.0" fill="#00ffff"/>
<polygon points="1143.2,550.8 1148.8,554.0 1150.3,558.5 1148.8,563.0 1143.2,566.2 1137.7,563.0 1136.1,558.5 1137.7,554.0" fill="#00ffff"/>
<polygon points="1157.8,550.8 1163.3,554.0 1164.9,558.5 1163.3,563.0 1157.8,566.2 1152.3,563.0 1150.7,558.5 1152.3,554.0" fill="#00ffff"/>
<polygon points="1172.3,550.8 1177.9,554.0 1179.4,558.5 1177.9,563.0 1172.3,566.2 1166.8,563.0 1165.2,558.5 1166.8,554.0" fill="#00ffff"/>
<polygon points="1186.9,550.8 1192.4,554.0 1194.0,558.5 1192.4,563.0 1186.9,566.2 1181.4,563.0 1179.8,558.5 1181.4,554.0" fill="#00ffff"/>
<polygon points="1201.4,550.8 1207.0,554.0 1208.5,558.5 1207.0,563.0 1201.4,566.2 1195.9,563.0 1194.3,558.5 1195.9,554.0" fill="#00ffff"/>
<polygon points="1216.0,550.8 1221.5,554.0 1223.1,558.5 1221.5,563.0 1216.0,566.2 1210.5,563.0 1208.9,558.5 1210.5,554.0" fill="#00ffff"/>
<polygon points="1230.5,550.8 1236.1,554.0 1237.6,558.5 1236.1,563.0 1230.5,566.2 1225.0,563.0 1223.4,558.5 1225.0,554.0" fill="#00ffff"/>
<polygon points="1245.1,550.8 1250.6,554.0 1252.2,558.5 1250.6,563.0 1245.1,566.2 1239.6,563.0 1238.0,558.5 1239.6,554.0" fill="#00ffff"/>
<polygon points="1259.6,550.8 1265.2,554.0 1266.7,558.5 1265.2,563.0 1259.6,566.2 1254.1,563.0 1252.5,558.5 1254.1,554.0" fill="#00ffff"/>
<polygon points="1274.2,550.8 1279.7,554.0 1281.3,558.5 1279.7,563.0 1274.2,566.2 1268.7,563.0 1267.1,558.5 1268.7,554.0" fill="#00ffff"/>
<polygon points="1288.7,550.8 1294.3,554.0 1295.8,558.5 1294.3,563.0 1288.7,566.2 1283.2,563.0 1281.6,558.5 1283.2,554.0" fill="#00ffff"/>
<polygon points="1303.3,550.8 1308.8,554.0 1310.4,558.5 1308.8,563.0 1303.3,566.2 1297.8,563.0 1296.2,558.5 1297.8,554.0" fill="#00ffff"/>
<polygon points="1317.8,550.8 1323.4,554.0 1324.9,558.5 1323.4,563.0 1317.8,566.2 1312.3,563.0 1310.7,558.5 1312.3,554.0" fill="#00ffff"/>
<polygon points="1332.4,550.8 1337.9,554.0 1339.5,558.5 1337.9,563.0 1332.4,566.2 1326.9,563.0 1325.3,558.5 1326.9,554.0" fill="#00ffff"/>
<polygon points="1346.9,550.8 1352.5,554.0 1354.0,558.5 1352.5,563.0 1346.9,566.2 1341.4,563.0 1339.8,558.5 1341.4,554.0" fill="#00ffff"/>
<polygon points="1361.5,550.8 1367.0,554.0 1368.6,558.5 1367.0,563.0 1361.5,566.2 1356.0,563.0 1354.4,558.5 1356.0,554.0" fill="#00ffff"/>
<polygon points="1376.0,550.8 1381.6,554.0 1383.1,558.5 1381.6,563.0 1376.0,566.2 1370.5,563.0 1368.9,558.5 1370.5,554.0" fill="#00ffff"/>
<polygon points="1390.6,550.8 1396.1,554.0 1397.7,558.5 1396.1,563.0 1390.6,566.2 1385.1,563.0 1383.5,558.5 1385.1,554.0" fill="#00ffff"/>
<polygon points="1405.1,550.8 1410.7,554.0 1412.2,558.5 1410.7,563.0 1405.1,566.2 1399.6,563.0 1398.0,558.5 1399.6,554.0" fill="#00ffff"/>
<polygon points="1419.7,550.8 1425.2,554.0 1426.8,558.5 1425.2,563.0 1419.7,566.2 1414.2,563.0 1412.6,558.5 1414.2,554.0" fill="#00ffff"/>
<polygon points="1434.2,550.8 1439.8,554.0 1441.3,558.5 1439.8,563.0 1434.2,566.2 1428.7,563.0 1427.1,558.5 1428.7,554.0" fill="#00ffff"/>
<polygon points="1448.8,550.8 1454.3,554.0 1455.9,558.5 1454.3,563.0 1448.8,566.2 1443.3,563.0 1441.7,558.5 1443.3,554.0" fill="#00ffff"/>
<polygon points="1463.3,550.8 1468.9,554.0 1470.4,558.5 1468.9,563.0 1463.3,566.2 1457.8,563.0 1456.2,558.5 1457.8,554.0" fill="#00ffff"/>
<polygon points="1477.9,550.8 1483.4,554.0 1485.0,558.5 1483.4,563.0 1477.9,566.2 1472.4,563.0 1470.8,558.5 1472.4,554.0" fill="#00ffff"/>
<polygon points="1492.4,550.8 1498.0,554.0 1499.5,558.5 1498.0,563.0 1492.4,566.2 1486.9,563.0 1485.3,558.5 1486.9,554.0" fill="#00ffff"/>
<polygon points="1507.0,550.8 1512.5,554.0 1514.1,558.5 1512.5,563.0 1507.0,566.2 1501.5,563.0 1499.9,558.5 1501.5,554.0" fill="#00ffff"/>
<polygon points="1543.0,550.8 1548.5,554.0 1550.1,558.5 1548.5,563.0 1543.0,566.2 1537.5,563.0 1535.9,558.5 1537.5,554.0" fill="#00ffff"/>
<polygon points="1577.0,550.8 1582.5,554.0 1584.1,558.5 1582.5,563.0 1577.0,566.2 1571.5,563.0 1569.9,558.5 1571.5,554.0" fill="#00ffff"/>
<polygon points="1610.0,550.8 1615.5,554.0 1617.1,558.5 1615.5,563.0 1610.0,566.2 1604.5,563.0 1602.9,558.5 1604.5,554.0" fill="#00ffff"/>
<polygon points="1644.0,550.8 1649.5,554.0 1651.1,558.5 1649.5,563.0 1644.0,566.2 1638.5,563.0 1636.9,558.5 1638.5,554.0" fill="#00ffff"/>
<polygon points="1677.4,550.8 1682.9,554.0 1684.5,558.5 1682.9,563.0 1677.4,566.2 1671.9,563.0 1670.3,558.5 1671.9,554.0" fill="#00ffff"/>
<polygon points="1712.0,550.8 1717.5,554.0 1719.1,558.5 1717.5,563.0 1712.0,566.2 1706.5,563.0 1704.9,558.5 1706.5,554.0" fill="#00ffff"/>
<polygon points="1746.0,550.8 1751.5,554.0 1753.1,558.5 1751.5,563.0 1746.0,566.2 1740.5,563.0 1738.9,558.5 1740.5,554.0" fill="#00ffff"/>
<polygon points="1779.0,550.8 1784.5,554.0 1786.1,558.5 1784.5,563.0 1779.0,566.2 1773.5,563.0 1771.9,558.5 1773.5,554.0" fill="#00ffff"/>
<rect x="929" y="553" width="585" height="6.5" fill="#00ffff"/>
<polygon points="343.0,626.8 348.5,630.0 350.1,634.5 348.5,639.0 343.0,642.2 337.5,639.0 335.9,634.5 337.5,630.0" fill="#00ffff"/>
<polygon points="416.0,626.8 421.5,630.0 423.1,634.5 421.5,639.0 416.0,642.2 410.5,639.0 408.9,634.5 410.5,630.0" fill="#00ffff"/>
<polygon points="489.0,626.8 494.5,630.0 496.1,634.5 494.5,639.0 489.0,642.2 483.5,639.0 481.9,634.5 483.5,630.0" fill="#00ffff"/>
<polygon points="561.7,626.8 567.2,630.0 568.8,634.5 567.2,639.0 561.7,642.2 556.2,639.0 554.6,634.5 556.2,630.0" fill="#00ffff"/>
<polygon points="634.4,626.8 639.9,630.0 641.5,634.5 639.9,639.0 634.4,642.2 628.9,639.0 627.3,634.5 628.9,630.0" fill="#00ffff"/>
<polygon points="707.2,626.8 712.7,630.0 714.3,634.5 712.7,639.0 707.2,642.2 701.7,639.0 700.1,634.5 701.7,630.0" fill="#00ffff"/>
<polygon points="779.5,626.8 785.0,630.0 786.6,634.5 785.0,639.0 779.5,642.2 774.0,639.0 772.4,634.5 774.0,630.0" fill="#00ffff"/>
<polygon points="794.0,626.8 799.6,630.0 801.1,634.5 799.6,639.0 794.0,642.2 788.5,639.0 786.9,634.5 788.5,630.0" fill="#00ffff"/>
<polygon points="808.6,626.8 814.1,630.0 815.7,634.5 814.1,639.0 808.6,642.2 803.1,639.0 801.5,634.5 803.1,630.0" fill="#00ffff"/>
<polygon points="823.1,626.8 828.7,630.0 830.2,634.5 828.7,639.0 823.1,642.2 817.6,639.0 816.0,634.5 817.6,630.0" fill="#00ffff"/>
<polygon points="837.7,626.8 843.2,630.0 844.8,634.5 843.2,639.0 837.7,642.2 832.2,639.0 830.6,634.5 832.2,630.0" fill="#00ffff"/>
<polygon points="852.2,626.8 857.8,630.0 859.3,634.5 857.8,639.0 852.2,642.2 846.7,639.0 845.1,634.5 846.7,630.0" fill="#00ffff"/>
<polygon points="866.8,626.8 872.3,630.0 873.9,634.5 872.3,639.0 866.8,642.2 861.3,639.0 859.7,634.5 861.3,630.0" fill="#00ffff"/>
<polygon points="881.3,626.8 886.9,630.0 888.4,634.5 886.9,639.0 881.3,642.2 875.8,639.0 874.2,634.5 875.8,630.0" fill="#00ffff"/>
<polygon points="895.9,626.8 901.4,630.0 903.0,634.5 901.4,639.0 895.9,642.2 890.4,639.0 888.8,634.5 890.4,630.0" fill="#00ffff"/>
<polygon points="910.4,626.8 916.0,630.0 917.5,634.5 916.0,639.0 910.4,642.2 904.9,639.0 903.3,634.5 904.9,630.0" fill="#00ffff"/>
<polygon points="925.0,626.8 930.5,630.0 932.1,634.5 930.5,639.0 925.0,642.2 919.5,639.0 917.9,634.5 919.5,630.0" fill="#00ffff"/>
<rect x="346" y="638.2" width="588" height="13" fill="url(#npband)"/>
<polyline points="934.0,636.0 943.0,634.5 954.0,627.5 966.0,612.0 974.0,594.0 977.5,577.0 979.0,563.0" fill="none" stroke="#00ffff" stroke-width="13" stroke-linejoin="round" stroke-linecap="round" />
<polygon points="963,559 997,559 984,574 976,580" fill="#00ffff"/>
<polygon points="343.0,1014.3 348.5,1017.5 350.1,1022.0 348.5,1026.5 343.0,1029.7 337.5,1026.5 335.9,1022.0 337.5,1017.5" fill="#00ffff"/>
<polygon points="416.0,1014.3 421.5,1017.5 423.1,1022.0 421.5,1026.5 416.0,1029.7 410.5,1026.5 408.9,1022.0 410.5,1017.5" fill="#00ffff"/>
<polygon points="489.0,1014.3 494.5,1017.5 496.1,1022.0 494.5,1026.5 489.0,1029.7 483.5,1026.5 481.9,1022.0 483.5,1017.5" fill="#00ffff"/>
<polygon points="561.7,1014.3 567.2,1017.5 568.8,1022.0 567.2,1026.5 561.7,1029.7 556.2,1026.5 554.6,1022.0 556.2,1017.5" fill="#00ffff"/>
<polygon points="634.4,1014.3 639.9,1017.5 641.5,1022.0 639.9,1026.5 634.4,1029.7 628.9,1026.5 627.3,1022.0 628.9,1017.5" fill="#00ffff"/>
<polygon points="707.2,1014.3 712.7,1017.5 714.3,1022.0 712.7,1026.5 707.2,1029.7 701.7,1026.5 700.1,1022.0 701.7,1017.5" fill="#00ffff"/>
<polygon points="743.0,990.8 748.5,994.0 750.1,998.5 748.5,1003.0 743.0,1006.2 737.5,1003.0 735.9,998.5 737.5,994.0" fill="#00ffff"/>
<polygon points="743.0,1006.8 748.5,1010.0 750.1,1014.5 748.5,1019.0 743.0,1022.2 737.5,1019.0 735.9,1014.5 737.5,1010.0" fill="#00ffff"/>
<polygon points="779.4,984.7 784.9,987.9 786.5,992.5 784.9,997.1 779.4,1000.3 773.9,997.1 772.3,992.5 773.9,987.9" fill="#00ffff"/><polygon points="794.2,984.7 799.7,987.9 801.3,992.5 799.7,997.1 794.2,1000.3 788.7,997.1 787.1,992.5 788.7,987.9" fill="#00ffff"/><polygon points="809.0,984.7 814.5,987.9 816.1,992.5 814.5,997.1 809.0,1000.3 803.5,997.1 801.9,992.5 803.5,987.9" fill="#00ffff"/><polygon points="823.8,984.7 829.3,987.9 830.9,992.5 829.3,997.1 823.8,1000.3 818.3,997.1 816.7,992.5 818.3,987.9" fill="#00ffff"/><polygon points="838.6,984.7 844.1,987.9 845.7,992.5 844.1,997.1 838.6,1000.3 833.1,997.1 831.5,992.5 833.1,987.9" fill="#00ffff"/>
<polyline points="836.0,995.5 857.0,974.0" fill="none" stroke="#00ffff" stroke-width="11.5" stroke-linejoin="round" stroke-linecap="round" />
<polygon points="861.0,944.4 866.8,947.6 868.4,952.0 866.8,956.4 861.0,959.6 855.2,956.4 853.6,952.0 855.2,947.6" fill="#00ffff"/>
<polygon points="861.0,957.4 866.8,960.6 868.4,965.0 866.8,969.4 861.0,972.6 855.2,969.4 853.6,965.0 855.2,960.6" fill="#00ffff"/>
<polygon points="861.0,969.4 866.8,972.6 868.4,977.0 866.8,981.4 861.0,984.6 855.2,981.4 853.6,977.0 855.2,972.6" fill="#00ffff"/>
<polygon points="875.5,944.4 881.3,947.6 882.9,952.0 881.3,956.4 875.5,959.6 869.7,956.4 868.1,952.0 869.7,947.6" fill="#00ffff"/>
<polygon points="875.5,957.4 881.3,960.6 882.9,965.0 881.3,969.4 875.5,972.6 869.7,969.4 868.1,965.0 869.7,960.6" fill="#00ffff"/>
<polygon points="875.5,969.4 881.3,972.6 882.9,977.0 881.3,981.4 875.5,984.6 869.7,981.4 868.1,977.0 869.7,972.6" fill="#00ffff"/>
<polygon points="890.0,944.4 895.8,947.6 897.4,952.0 895.8,956.4 890.0,959.6 884.2,956.4 882.6,952.0 884.2,947.6" fill="#00ffff"/>
<polygon points="890.0,957.4 895.8,960.6 897.4,965.0 895.8,969.4 890.0,972.6 884.2,969.4 882.6,965.0 884.2,960.6" fill="#00ffff"/>
<polygon points="890.0,969.4 895.8,972.6 897.4,977.0 895.8,981.4 890.0,984.6 884.2,981.4 882.6,977.0 884.2,972.6" fill="#00ffff"/>
<polygon points="904.5,944.4 910.3,947.6 911.9,952.0 910.3,956.4 904.5,959.6 898.7,956.4 897.1,952.0 898.7,947.6" fill="#00ffff"/>
<polygon points="904.5,957.4 910.3,960.6 911.9,965.0 910.3,969.4 904.5,972.6 898.7,969.4 897.1,965.0 898.7,960.6" fill="#00ffff"/>
<polygon points="904.5,969.4 910.3,972.6 911.9,977.0 910.3,981.4 904.5,984.6 898.7,981.4 897.1,977.0 898.7,972.6" fill="#00ffff"/>
<polygon points="918.0,958.4 923.8,961.6 925.4,966.0 923.8,970.4 918.0,973.6 912.2,970.4 910.6,966.0 912.2,961.6" fill="#00ffff"/>
<rect x="858" y="947.5" width="292" height="9.5" fill="#00ffff"/>
<polygon points="861.0,943.9 866.8,947.2 868.4,952.0 866.8,956.8 861.0,960.1 855.2,956.8 853.6,952.0 855.2,947.2" fill="#00ffff"/><polygon points="875.5,943.9 881.3,947.2 882.9,952.0 881.3,956.8 875.5,960.1 869.8,956.8 868.1,952.0 869.8,947.2" fill="#00ffff"/><polygon points="890.1,943.9 895.9,947.2 897.5,952.0 895.9,956.8 890.1,960.1 884.3,956.8 882.7,952.0 884.3,947.2" fill="#00ffff"/><polygon points="904.6,943.9 910.4,947.2 912.0,952.0 910.4,956.8 904.6,960.1 898.9,956.8 897.2,952.0 898.9,947.2" fill="#00ffff"/><polygon points="919.2,943.9 925.0,947.2 926.6,952.0 925.0,956.8 919.2,960.1 913.4,956.8 911.8,952.0 913.4,947.2" fill="#00ffff"/><polygon points="933.8,943.9 939.5,947.2 941.1,952.0 939.5,956.8 933.8,960.1 928.0,956.8 926.4,952.0 928.0,947.2" fill="#00ffff"/><polygon points="948.3,943.9 954.1,947.2 955.7,952.0 954.1,956.8 948.3,960.1 942.5,956.8 940.9,952.0 942.5,947.2" fill="#00ffff"/><polygon points="962.9,943.9 968.6,947.2 970.2,952.0 968.6,956.8 962.9,960.1 957.1,956.8 955.5,952.0 957.1,947.2" fill="#00ffff"/><polygon points="977.4,943.9 983.2,947.2 984.8,952.0 983.2,956.8 977.4,960.1 971.6,956.8 970.0,952.0 971.6,947.2" fill="#00ffff"/><polygon points="992.0,943.9 997.7,947.2 999.4,952.0 997.7,956.8 992.0,960.1 986.2,956.8 984.6,952.0 986.2,947.2" fill="#00ffff"/><polygon points="1006.5,943.9 1012.3,947.2 1013.9,952.0 1012.3,956.8 1006.5,960.1 1000.7,956.8 999.1,952.0 1000.7,947.2" fill="#00ffff"/><polygon points="1021.0,943.9 1026.8,947.2 1028.5,952.0 1026.8,956.8 1021.0,960.1 1015.3,956.8 1013.6,952.0 1015.3,947.2" fill="#00ffff"/><polygon points="1035.6,943.9 1041.4,947.2 1043.0,952.0 1041.4,956.8 1035.6,960.1 1029.8,956.8 1028.2,952.0 1029.8,947.2" fill="#00ffff"/><polygon points="1050.2,943.9 1055.9,947.2 1057.6,952.0 1055.9,956.8 1050.2,960.1 1044.4,956.8 1042.8,952.0 1044.4,947.2" fill="#00ffff"/><polygon points="1064.7,943.9 1070.5,947.2 1072.1,952.0 1070.5,956.8 1064.7,960.1 1058.9,956.8 1057.3,952.0 1058.9,947.2" fill="#00ffff"/><polygon points="1079.2,943.9 1085.0,947.2 1086.7,952.0 1085.0,956.8 1079.2,960.1 1073.5,956.8 1071.8,952.0 1073.5,947.2" fill="#00ffff"/><polygon points="1093.8,943.9 1099.6,947.2 1101.2,952.0 1099.6,956.8 1093.8,960.1 1088.0,956.8 1086.4,952.0 1088.0,947.2" fill="#00ffff"/><polygon points="1108.4,943.9 1114.1,947.2 1115.8,952.0 1114.1,956.8 1108.4,960.1 1102.6,956.8 1101.0,952.0 1102.6,947.2" fill="#00ffff"/><polygon points="1122.9,943.9 1128.7,947.2 1130.3,952.0 1128.7,956.8 1122.9,960.1 1117.1,956.8 1115.5,952.0 1117.1,947.2" fill="#00ffff"/><polygon points="1137.5,943.9 1143.2,947.2 1144.9,952.0 1143.2,956.8 1137.5,960.1 1131.7,956.8 1130.0,952.0 1131.7,947.2" fill="#00ffff"/>
<polyline points="1179.0,941.0 1187.0,922.0 1199.0,905.0 1213.0,892.0 1226.0,877.5 1243.0,858.5 1255.0,845.0 1273.0,825.0 1287.0,809.0 1301.0,793.0 1314.0,777.0 1325.0,761.0 1330.0,742.0 1329.0,723.0 1324.0,705.0 1316.0,685.0 1309.0,665.0 1300.0,645.0 1292.0,627.0" fill="none" stroke="#00f000" stroke-width="11" stroke-linejoin="round" stroke-linecap="round" stroke-dasharray="22 46"/>
<polyline points="1150.0,952.0 1163.0,949.0 1176.0,940.0 1184.0,921.0 1196.0,904.0 1210.0,891.0 1223.0,876.5 1240.0,857.5 1252.0,844.0 1270.0,824.0 1284.0,808.0 1298.0,792.0 1311.0,776.0 1322.0,760.0 1327.0,741.0 1326.0,722.0 1321.0,704.0 1313.0,684.0 1306.0,664.0 1297.0,644.0 1289.0,626.0 1285.0,606.0 1284.0,584.0 1284.0,564.0" fill="none" stroke="#00ffff" stroke-width="12.5" stroke-linejoin="round" stroke-linecap="round" />
<polygon points="1150.7,947.3 1156.3,950.5 1157.9,954.9 1156.3,959.4 1150.7,962.5 1145.1,959.4 1143.5,954.9 1145.1,950.5" fill="#00ffff"/>
<polygon points="1161.3,938.9 1166.9,942.1 1168.5,946.5 1166.9,951.0 1161.3,954.1 1155.7,951.0 1154.1,946.5 1155.7,942.1" fill="#00ffff"/>
<polygon points="1179.7,934.0 1185.3,937.1 1186.9,941.6 1185.3,946.0 1179.7,949.2 1174.1,946.0 1172.5,941.6 1174.1,937.1" fill="#00ffff"/>
<polygon points="1184.0,913.4 1189.6,916.6 1191.2,921.0 1189.6,925.4 1184.0,928.6 1178.4,925.4 1176.8,921.0 1178.4,916.6" fill="#00ffff"/>
<polygon points="1198.4,899.0 1204.0,902.1 1205.6,906.6 1204.0,911.0 1198.4,914.2 1192.8,911.0 1191.2,906.6 1192.8,902.1" fill="#00ffff"/>
<polygon points="1207.4,881.1 1213.0,884.2 1214.6,888.7 1213.0,893.1 1207.4,896.3 1201.8,893.1 1200.2,888.7 1201.8,884.2" fill="#00ffff"/>
<polygon points="1225.2,870.9 1230.9,874.1 1232.4,878.5 1230.9,882.9 1225.2,886.1 1219.6,882.9 1218.0,878.5 1219.6,874.1" fill="#00ffff"/>
<polygon points="1229.3,857.4 1234.9,860.6 1236.5,865.0 1234.9,869.4 1229.3,872.6 1223.6,869.4 1222.1,865.0 1223.6,860.6" fill="#00ffff"/>
<polygon points="1243.0,852.6 1248.6,855.7 1250.2,860.2 1248.6,864.6 1243.0,867.8 1237.4,864.6 1235.8,860.2 1237.4,855.7" fill="#00ffff"/>
<polygon points="1252.0,836.4 1257.6,839.6 1259.2,844.0 1257.6,848.4 1252.0,851.6 1246.4,848.4 1244.8,844.0 1246.4,839.6" fill="#00ffff"/>
<polygon points="1263.6,828.7 1269.2,831.9 1270.8,836.3 1269.2,840.8 1263.6,843.9 1258.0,840.8 1256.4,836.3 1258.0,831.9" fill="#00ffff"/>
<polygon points="1267.4,814.1 1273.0,817.2 1274.6,821.7 1273.0,826.1 1267.4,829.3 1261.7,826.1 1260.2,821.7 1261.7,817.2" fill="#00ffff"/>
<polygon points="1286.3,802.4 1291.9,805.5 1293.5,810.0 1291.9,814.4 1286.3,817.6 1280.6,814.4 1279.1,810.0 1280.6,805.5" fill="#00ffff"/>
<polygon points="1295.7,782.5 1301.3,785.7 1302.9,790.1 1301.3,794.6 1295.7,797.7 1290.1,794.6 1288.5,790.1 1290.1,785.7" fill="#00ffff"/>
<polygon points="1314.3,770.7 1319.9,773.8 1321.5,778.3 1319.9,782.7 1314.3,785.9 1308.7,782.7 1307.1,778.3 1308.7,773.8" fill="#00ffff"/>
<polygon points="1322.0,752.4 1327.6,755.6 1329.2,760.0 1327.6,764.4 1322.0,767.6 1316.4,764.4 1314.8,760.0 1316.4,755.6" fill="#00ffff"/>
<polygon points="1330.5,733.2 1336.1,736.4 1337.7,740.8 1336.1,745.3 1330.5,748.4 1324.9,745.3 1323.3,740.8 1324.9,736.4" fill="#00ffff"/>
<polygon points="1322.6,715.3 1328.2,718.5 1329.8,722.9 1328.2,727.4 1322.6,730.5 1317.0,727.4 1315.4,722.9 1317.0,718.5" fill="#00ffff"/>
<polygon points="1323.8,695.3 1329.4,698.4 1331.0,702.9 1329.4,707.3 1323.8,710.5 1318.2,707.3 1316.6,702.9 1318.2,698.4" fill="#00ffff"/>
<polygon points="1310.2,677.4 1315.8,680.5 1317.4,685.0 1315.8,689.4 1310.2,692.6 1304.6,689.4 1303.0,685.0 1304.6,680.5" fill="#00ffff"/>
<polygon points="1309.6,654.8 1315.3,657.9 1316.8,662.4 1315.3,666.8 1309.6,670.0 1304.0,666.8 1302.4,662.4 1304.0,657.9" fill="#00ffff"/>
<polygon points="1297.0,636.4 1302.6,639.6 1304.2,644.0 1302.6,648.4 1297.0,651.6 1291.4,648.4 1289.8,644.0 1291.4,639.6" fill="#00ffff"/>
<polygon points="1292.4,617.7 1298.0,620.9 1299.6,625.3 1298.0,629.8 1292.4,632.9 1286.8,629.8 1285.2,625.3 1286.8,620.9" fill="#00ffff"/>
<polygon points="1281.5,598.6 1287.1,601.7 1288.7,606.2 1287.1,610.6 1281.5,613.8 1275.9,610.6 1274.3,606.2 1275.9,601.7" fill="#00ffff"/>
<polygon points="1287.5,587.3 1293.1,590.4 1294.7,594.9 1293.1,599.3 1287.5,602.5 1281.9,599.3 1280.3,594.9 1281.9,590.4" fill="#00ffff"/>
<polygon points="1281.0,576.4 1286.6,579.6 1288.2,584.0 1286.6,588.4 1281.0,591.6 1275.4,588.4 1273.8,584.0 1275.4,579.6" fill="#00ffff"/>
<polygon points="1297.0,580.0 1302.9,583.3 1304.6,588.0 1302.9,592.7 1297.0,596.0 1291.1,592.7 1289.4,588.0 1291.1,583.3" fill="#00ffff"/>
<polygon points="1161.0,933.0 1166.9,936.3 1168.6,941.0 1166.9,945.7 1161.0,949.0 1155.1,945.7 1153.4,941.0 1155.1,936.3" fill="#00ffff"/>
<polygon points="1176.5,942.0 1182.4,945.3 1184.1,950.0 1182.4,954.7 1176.5,958.0 1170.6,954.7 1168.9,950.0 1170.6,945.3" fill="#00ffff"/>
<polygon points="1177.0,926.0 1182.9,929.3 1184.6,934.0 1182.9,938.7 1177.0,942.0 1171.1,938.7 1169.4,934.0 1171.1,929.3" fill="#00ffff"/>
<polygon points="1330.0,734.0 1335.9,737.3 1337.6,742.0 1335.9,746.7 1330.0,750.0 1324.1,746.7 1322.4,742.0 1324.1,737.3" fill="#00ffff"/>
<polygon points="1158.0,920.0 1163.9,923.3 1165.6,928.0 1163.9,932.7 1158.0,936.0 1152.1,932.7 1150.4,928.0 1152.1,923.3" fill="#00ffff"/>
<polygon points="1292.0,564.0 1297.9,567.3 1299.6,572.0 1297.9,576.7 1292.0,580.0 1286.1,576.7 1284.4,572.0 1286.1,567.3" fill="#00ffff"/>
<polygon points="1278.0,592.0 1283.9,595.3 1285.6,600.0 1283.9,604.7 1278.0,608.0 1272.1,604.7 1270.4,600.0 1272.1,595.3" fill="#00ffff"/>
<polygon points="1301.0,632.0 1306.9,635.3 1308.6,640.0 1306.9,644.7 1301.0,648.0 1295.1,644.7 1293.4,640.0 1295.1,635.3" fill="#00ffff"/>
</g>
<rect x="1500" y="553" width="351.5" height="3.6" fill="#cdb6b6"/>
<rect x="927.8" y="308.2" width="931.0" height="245.6" fill="url(#resist)" filter="url(#soft)"/>
<g id="arrows" filter="url(#soft)">
<polygon points="458.0,454.0 458.0,1095.3 443.5,1095.3 465.5,1139.5 487.5,1095.3 473.0,1095.3 473.0,454.0" fill="#b9b2b2" />
<polygon points="564.0,323.5 564.0,555.0 550.0,555.0 572.0,599.5 594.0,555.0 580.0,555.0 580.0,323.5" fill="#00cfa0" />
<polygon points="646.9,104.4 1019.6,750.4 1007.4,757.5 1047.4,782.3 1045.9,735.2 1033.8,742.3 661.1,96.2" fill="#e25054" />
<polygon points="976.3,531.8 1018.3,509.8 1018.3,524.3 1251.5,524.3 1251.5,509.8 1293.5,531.8 1251.5,553.8 1251.5,539.3 1018.3,539.3 1018.3,553.8" fill="#1d1d9c"/>
<line x1="321.5" y1="460" x2="398" y2="621" stroke="#ee0000" stroke-width="4.1" stroke-linecap="round"/>
<polygon points="411,648.5 379.5,622.5 411.8,606.5" fill="#ee0000"/>
<line x1="1430" y1="943.8" x2="1304" y2="800" stroke="#ffff00" stroke-width="4.6" stroke-linecap="round"/>
<polygon points="1284.5,777.5 1322,791.5 1306.5,801.5 1293.5,814.5" fill="#ffff00"/>
</g>
<g id="angle" filter="url(#soft)">
<line x1="927.8" y1="99" x2="927.8" y2="432" stroke="#000" stroke-width="5.2" stroke-dasharray="17.4 7"/>
<path d="M783.5,298.5 C 815,268 850,248 877,247 C 895,246.5 912,254 925,263" fill="none" stroke="#000" stroke-width="3.2" stroke-linecap="round"/>
</g>
<g id="labels" filter="url(#soft)">
<text x="718.5" y="99.3" font-family="'Liberation Sans', Arial, Helvetica, sans-serif" font-size="88" font-weight="bold" fill="#000" >Mg<tspan font-size="62" dy="-29">+</tspan></text>
<text x="761.5" y="241.0" font-family="'Liberation Sans', Arial, Helvetica, sans-serif" font-size="88" font-weight="bold" fill="#000" >30<tspan font-size="58" dy="-28">o</tspan></text>
<text x="523.0" y="295.5" font-family="'Liberation Sans', Arial, Helvetica, sans-serif" font-size="88" font-weight="bold" fill="#000" >Si<tspan font-size="62" dy="-29">+</tspan></text>
<text x="15.0" y="402.5" font-family="'Liberation Sans', Arial, Helvetica, sans-serif" font-size="88" font-weight="bold" fill="#000" textLength="552" lengthAdjust="spacingAndGlyphs">n<tspan font-size="54" dy="-30">+</tspan><tspan dy="30">/p</tspan><tspan dx="-8"> Junction</tspan></text>
<text x="1493.0" y="407.5" font-family="'Liberation Sans', Arial, Helvetica, sans-serif" font-size="88" font-weight="bold" fill="#000" letter-spacing="0.6">Resist</text>
<text x="973.5" y="476.5" font-family="'Liberation Sans', Arial, Helvetica, sans-serif" font-size="88" font-weight="bold" fill="#1d1d9c" >L<tspan font-size="58" dy="18">g</tspan><tspan dy="-18">:0.4 &#956;m</tspan></text>
<text font-family="'Liberation Sans', Arial, Helvetica, sans-serif" font-size="74.5" fill="#00fdcb" stroke="#00fdcb" stroke-width="2.8" stroke-linejoin="miter" stroke-miterlimit="3"><tspan x="481.9" y="625.3">n</tspan><tspan x="525.7" y="600" font-size="50" stroke-width="2.2">+</tspan><tspan x="560" y="625.3"> </tspan><tspan x="577.8 630.0 677.1 720.4 749.7 792.1" y="625.3">Source</tspan></text>
<text x="1277.0" y="1007.3" font-family="'Liberation Sans', Arial, Helvetica, sans-serif" font-size="88" font-weight="bold" fill="#00fdcb" letter-spacing="0.25">p/n<tspan font-size="60" dy="-27">-</tspan><tspan dy="27" dx="-9"> Junction</tspan></text>
<text x="973.2" y="1246.5" font-family="'Liberation Sans', Arial, Helvetica, sans-serif" font-size="88" font-weight="bold" fill="#00fdcb" letter-spacing="-0.1">n<tspan font-size="60" dy="-27">-</tspan><tspan dy="27" dx="-6"> Drain</tspan></text>
<text transform="scale(0.95,1)" x="406.3 450.9 469.9 530.2 531.2 603.7 652.7 681.4 726.3 753.3 775.3 795.4" y="1222.6" font-family="'Liberation Sans', Arial, Helvetica, sans-serif" font-size="70" font-weight="normal" fill="#cdcdcd" stroke="#cdcdcd" stroke-width="3.0" stroke-linejoin="miter" stroke-miterlimit="3" >SIMS Profile</text>
<text x="885.5 938.1 990.4 1042.6 1095.0 1119.0 1120.0 1181.1 1213.5 1266.6 1344.8" y="1529.3" font-family="'Liberation Sans', Arial, Helvetica, sans-serif" font-size="86.5" font-weight="normal" fill="#000" stroke="#000" stroke-width="3.3" stroke-linejoin="miter" stroke-miterlimit="3" >Length (&#181;m)</text>
<text transform="translate(171.6,1131.8) rotate(-90)" x="-5.4 58.8 114.6 165.9 188.7 189.7 257.6 287.5 336.2 417.3" y="0.0" font-family="'Liberation Sans', Arial, Helvetica, sans-serif" font-size="86.5" font-weight="normal" fill="#000" stroke="#000" stroke-width="3.3" stroke-linejoin="miter" stroke-miterlimit="3" >Depth (&#181;m)</text>
</g>
</svg>
</body>
</html>
